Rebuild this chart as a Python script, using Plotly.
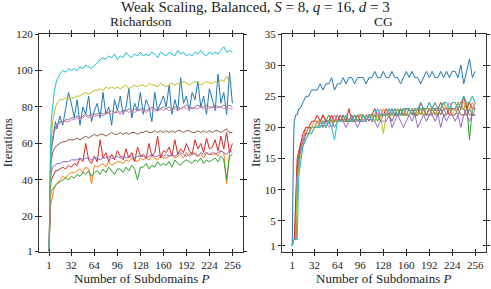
import plotly.graph_objects as go

# ---------------- data ----------------
P = [1, 2, 3, 4, 6, 8, 10, 12, 16, 20, 24, 28, 32] + list(range(36, 257, 4))

series_names = ["blue", "orange", "green", "red", "purple", "brown", "pink", "gray", "olive", "cyan"]
colors = ["#1f77b4", "#ff7f0e", "#2ca02c", "#d62728", "#9467bd",
          "#8c564b", "#e377c2", "#7f7f7f", "#bcbd22", "#17becf"]

# Richardson iterations
rich_blue = [1, 35, 50, 58, 63, 66, 72, 68, 75, 70, 78, 88, 82,
             74, 84, 70, 80, 76, 86, 72, 78, 82, 74, 88, 76, 80, 70, 84, 78,
             86, 76, 80, 90, 74, 82, 78, 88, 76, 84, 80, 72, 88, 78, 82, 86,
             80, 92, 76, 84, 78, 96, 82, 86, 78, 88, 84, 94, 80, 86, 76, 90,
             84, 78, 98, 82, 88, 76, 99, 82]
rich_orange = [1, 18, 25, 28, 32, 35, 37, 38, 40, 42, 41, 43, 44,
               44, 45, 46, 44, 47, 46, 38, 48, 47, 48, 49, 47, 50, 48, 49, 50,
               50, 49, 51, 50, 52, 51, 50, 52, 51, 52, 51, 53, 52, 51, 53, 52,
               52, 53, 54, 52, 53, 54, 52, 55, 53, 54, 55, 53, 54, 52, 55, 54,
               54, 55, 53, 56, 55, 38, 55, 57]
rich_green = [1, 22, 30, 34, 35, 36, 37, 38, 39, 40, 41, 40, 42,
              41, 43, 42, 44, 43, 45, 42, 44, 45, 43, 46, 44, 47, 45, 43, 46,
              46, 44, 47, 45, 48, 46, 40, 47, 47, 49, 46, 48, 47, 50, 48, 49,
              48, 50, 47, 51, 49, 48, 50, 51, 50, 49, 51, 50, 52, 49, 51, 50,
              51, 52, 50, 53, 51, 40, 53, 54]
rich_red = [1, 26, 36, 40, 42, 44, 45, 45, 46, 47, 46, 48, 47,
            49, 48, 52, 50, 60, 51, 49, 53, 50, 62, 52, 55, 50, 54, 51, 56,
            53, 51, 57, 52, 55, 50, 58, 53, 54, 52, 60, 53, 55, 64, 52, 56,
            55, 58, 53, 62, 54, 57, 55, 60, 56, 54, 62, 57, 60, 55, 63, 57,
            58, 62, 56, 64, 57, 66, 55, 60]
rich_purple = [1, 28, 38, 44, 47, 48, 48, 49, 49, 50, 50, 50, 51,
               51, 51, 52, 51, 52, 52, 51, 52, 52, 51, 52, 52, 53, 52, 52, 53,
               52, 53, 52, 53, 53, 52, 53, 53, 53, 52, 53, 54, 53, 53, 54, 53,
               54, 53, 54, 53, 54, 55, 54, 53, 54, 55, 54, 53, 55, 54, 55, 54,
               55, 54, 55, 56, 55, 54, 56, 55]
rich_brown = [1, 30, 42, 50, 55, 57, 58, 59, 60, 61, 61, 62, 62,
              62, 63, 62, 63, 64, 63, 64, 65, 64, 65, 65, 64, 65, 66, 65, 65,
              66, 65, 66, 65, 66, 66, 65, 66, 66, 67, 66, 66, 67, 66, 67, 66,
              67, 66, 67, 66, 67, 67, 66, 67, 67, 66, 66, 67, 66, 67, 66, 67,
              66, 67, 67, 66, 67, 68, 66, 66]
rich_pink = [1, 33, 46, 55, 62, 66, 68, 70, 71, 72, 72, 72, 73,
             73, 74, 73, 74, 75, 74, 75, 75, 75, 76, 75, 76, 77, 76, 77, 77,
             76, 77, 78, 77, 78, 77, 78, 78, 78, 77, 78, 79, 78, 78, 79, 78,
             79, 78, 79, 79, 78, 79, 80, 79, 79, 80, 79, 79, 80, 79, 80, 79,
             80, 79, 80, 80, 79, 80, 79, 79]
rich_gray = [1, 35, 48, 56, 63, 67, 69, 70, 72, 72, 73, 73, 74,
             74, 75, 74, 75, 76, 75, 76, 76, 76, 77, 76, 77, 77, 78, 77, 78,
             77, 78, 78, 79, 78, 79, 78, 79, 79, 78, 79, 80, 79, 78, 79, 80,
             79, 80, 79, 80, 80, 79, 80, 81, 80, 79, 80, 81, 80, 80, 81, 80,
             80, 81, 80, 80, 81, 80, 81, 80]
rich_olive = [1, 30, 50, 62, 72, 77, 80, 82, 84, 84, 85, 84, 85,
              85, 86, 86, 87, 88, 87, 88, 89, 89, 90, 89, 91, 90, 91, 90, 91,
              90, 91, 92, 90, 91, 92, 91, 92, 92, 91, 93, 92, 92, 91, 93, 92,
              91, 92, 93, 92, 93, 92, 94, 93, 92, 93, 94, 93, 92, 93, 94, 93,
              93, 94, 93, 95, 94, 97, 93, 93]
rich_cyan = [1, 40, 60, 72, 82, 88, 92, 95, 98, 100, 99, 101, 100,
             101, 100, 102, 101, 103, 102, 101, 103, 104, 106, 107, 106, 108, 107, 109, 106,
             108, 107, 110, 108, 107, 109, 108, 110, 108, 109, 108, 110, 109, 107, 110, 109,
             108, 110, 109, 108, 111, 109, 110, 108, 109, 108, 110, 109, 111, 109, 108, 110,
             109, 110, 109, 111, 113, 110, 111, 110]

# CG iterations
cg_blue = [1, 12, 18, 21, 22, 22, 23, 23, 24, 25, 25, 26, 26,
           26, 27, 26, 27, 27, 28, 26, 27, 27, 28, 27, 28, 28, 27, 28, 28,
           28, 27, 28, 28, 29, 28, 28, 29, 28, 28, 29, 28, 28, 27, 28, 29,
           28, 29, 28, 28, 27, 28, 29, 28, 29, 28, 28, 29, 28, 29, 28, 29,
           29, 28, 30, 27, 29, 31, 28, 29]
cg_orange = [1, 2, 2, 2, 8, 14, 16, 17, 18, 20, 20, 20, 21,
             21, 21, 22, 21, 21, 21, 22, 21, 21, 22, 21, 21, 22, 21, 22, 21,
             22, 21, 22, 22, 21, 22, 22, 23, 22, 22, 23, 22, 22, 23, 22, 23,
             23, 22, 23, 23, 22, 23, 23, 24, 23, 24, 23, 23, 24, 23, 23, 24,
             24, 23, 24, 24, 23, 24, 25, 24]
cg_green = [1, 2, 2, 2, 2, 13, 15, 17, 18, 19, 20, 20, 20,
            21, 20, 21, 21, 22, 21, 21, 21, 21, 22, 21, 21, 21, 22, 21, 22,
            22, 21, 22, 22, 22, 21, 22, 22, 22, 23, 22, 22, 23, 22, 22, 23,
            23, 22, 23, 22, 23, 23, 22, 23, 23, 23, 22, 23, 24, 23, 23, 23,
            23, 24, 23, 23, 24, 18, 23, 24]
cg_red = [1, 2, 2, 2, 10, 15, 16, 17, 19, 20, 20, 21, 21,
          22, 21, 22, 21, 21, 22, 21, 21, 22, 21, 21, 23, 21, 21, 22, 21,
          21, 22, 21, 22, 23, 22, 22, 22, 23, 22, 22, 23, 22, 22, 23, 22,
          22, 23, 22, 22, 24, 23, 22, 23, 23, 22, 23, 24, 23, 23, 22, 23,
          23, 24, 23, 25, 23, 24, 23, 23]
cg_purple = [1, 2, 2, 2, 2, 12, 15, 16, 18, 19, 19, 20, 20,
             20, 21, 20, 21, 21, 20, 21, 21, 21, 21, 20, 21, 21, 21, 20, 21,
             21, 21, 22, 21, 21, 20, 21, 21, 21, 22, 20, 21, 22, 21, 20, 21,
             22, 21, 22, 20, 21, 22, 21, 22, 22, 21, 22, 20, 22, 21, 22, 22,
             21, 22, 20, 22, 22, 21, 22, 22]
cg_brown = [1, 2, 2, 2, 2, 13, 15, 16, 18, 19, 19, 20, 20,
            20, 21, 21, 20, 21, 21, 21, 22, 21, 21, 22, 21, 21, 22, 21, 21,
            22, 21, 22, 21, 22, 22, 21, 22, 22, 22, 21, 22, 22, 23, 22, 22,
            22, 23, 22, 22, 23, 22, 22, 22, 23, 22, 22, 23, 22, 22, 23, 22,
            22, 23, 22, 22, 23, 22, 22, 22]
cg_pink = [1, 2, 2, 2, 2, 12, 14, 16, 18, 19, 20, 19, 20,
           21, 20, 21, 21, 20, 21, 22, 21, 21, 21, 22, 21, 22, 21, 21, 22,
           21, 22, 22, 21, 22, 22, 23, 22, 22, 22, 23, 22, 22, 22, 23, 22,
           23, 22, 22, 23, 23, 22, 23, 23, 22, 23, 23, 22, 23, 23, 24, 23,
           23, 23, 24, 23, 22, 23, 24, 23]
cg_gray = [1, 2, 2, 2, 2, 11, 14, 16, 17, 19, 19, 20, 20,
           20, 21, 20, 21, 21, 21, 20, 21, 21, 22, 21, 21, 22, 21, 22, 22,
           22, 21, 22, 22, 21, 22, 22, 22, 22, 22, 23, 22, 22, 23, 22, 22,
           23, 22, 22, 23, 22, 23, 22, 23, 22, 23, 23, 22, 23, 22, 23, 23,
           23, 22, 23, 23, 22, 23, 22, 23]
cg_olive = [1, 2, 2, 2, 2, 11, 13, 15, 17, 18, 19, 20, 20,
            20, 21, 21, 20, 21, 21, 21, 21, 21, 21, 22, 21, 21, 22, 21, 22,
            22, 21, 22, 22, 21, 22, 22, 19, 22, 22, 22, 23, 22, 22, 23, 22,
            22, 23, 23, 22, 23, 22, 23, 23, 23, 22, 23, 23, 24, 23, 23, 22,
            23, 24, 23, 23, 24, 23, 23, 24]
cg_cyan = [1, 2, 2, 2, 2, 2, 12, 14, 17, 18, 19, 19, 20,
           20, 20, 21, 20, 21, 20, 18, 21, 21, 21, 22, 21, 21, 22, 21, 21,
           22, 21, 22, 21, 22, 23, 22, 22, 22, 23, 22, 23, 22, 22, 23, 23,
           23, 22, 23, 23, 24, 23, 23, 24, 23, 24, 23, 23, 24, 24, 23, 24,
           24, 23, 24, 25, 24, 24, 25, 24]

rich_series = [rich_blue, rich_orange, rich_green, rich_red, rich_purple,
               rich_brown, rich_pink, rich_gray, rich_olive, rich_cyan]
cg_series = [cg_blue, cg_orange, cg_green, cg_red, cg_purple,
             cg_brown, cg_pink, cg_gray, cg_olive, cg_cyan]

x_ticks = [1, 32, 64, 96, 128, 160, 192, 224, 256]
rich_yticks = [1, 20, 40, 60, 80, 100, 120]
cg_yticks = [1, 5, 10, 15, 20, 25, 30, 35]

title_text = "Weak Scaling, Balanced, <i>S</i> = 8, <i>q</i> = 16, <i>d</i> = 3"
sub_titles = ["Richardson", "CG"]
x_title = "Number of Subdomains <i>P</i>"
y_title = "Iterations"

# ---------------- figure ----------------
FONT = "Liberation Serif, Times New Roman, serif"
TXT = "#222222"
fig = go.Figure()

for vals, col, name in zip(rich_series, colors, series_names):
    fig.add_trace(go.Scatter(x=P, y=vals, mode="lines", name=name,
                             line=dict(color=col, width=1), xaxis="x", yaxis="y",
                             showlegend=False, hoverinfo="skip"))
for vals, col, name in zip(cg_series, colors, series_names):
    fig.add_trace(go.Scatter(x=P, y=vals, mode="lines", name=name,
                             line=dict(color=col, width=1), xaxis="x2", yaxis="y2",
                             showlegend=False, hoverinfo="skip"))
# dummy traces so the overlay (inside-tick) axes get drawn
fig.add_trace(go.Scatter(x=[None], y=[None], xaxis="x3", yaxis="y3", showlegend=False, hoverinfo="skip"))
fig.add_trace(go.Scatter(x=[None], y=[None], xaxis="x4", yaxis="y4", showlegend=False, hoverinfo="skip"))

dl = [0, 0.4568]
dr = [0.5439, 1.0]
xr = [-13, 271]
rich_r = [0.5, 120]
cg_r = [0, 35]

def ax(dom, rng, tv, anchor, outside=True, overlay=None):
    d = dict(domain=dom, range=rng, tickvals=tv, ticktext=[str(t) for t in tv],
             anchor=anchor, showgrid=False, zeroline=False,
             ticks="outside" if outside else "inside", ticklen=3, tickwidth=1,
             tickcolor="#222222", mirror="ticks" if not outside else "allticks",
             tickfont=dict(family=FONT, size=11, color=TXT))
    if outside:
        d.update(showline=True, linecolor="#333333", linewidth=1.3)
    else:
        d.update(showline=False, showticklabels=False, overlaying=overlay)
    return d

fig.update_layout(
    width=491, height=289,
    margin=dict(l=39, r=1, t=34, b=37),
    paper_bgcolor="white", plot_bgcolor="white",
    hovermode=False,
    xaxis=ax(dl, xr, x_ticks, "y"),
    yaxis=ax([0, 1], rich_r, rich_yticks, "x"),
    xaxis2=ax(dr, xr, x_ticks, "y2"),
    yaxis2=ax([0, 1], cg_r, cg_yticks, "x2"),
    xaxis3=ax(dl, xr, x_ticks, "y3", outside=False, overlay="x"),
    yaxis3=ax([0, 1], rich_r, rich_yticks, "x3", outside=False, overlay="y"),
    xaxis4=ax(dr, xr, x_ticks, "y4", outside=False, overlay="x2"),
    yaxis4=ax([0, 1], cg_r, cg_yticks, "x4", outside=False, overlay="y2"),
)

ann = []
ann.append(dict(text=title_text, x=(257 - 39) / 451, y=(252 - 7) / 218, xref="paper", yref="paper",
                showarrow=False, xanchor="center", yanchor="middle",
                font=dict(family=FONT, size=15, color=TXT)))
for t, cx in zip(sub_titles, [(142 - 39) / 451, (387 - 39) / 451]):
    ann.append(dict(text=t, x=cx, y=(252 - 21) / 218, xref="paper", yref="paper",
                    showarrow=False, xanchor="center", yanchor="middle",
                    font=dict(family=FONT, size=13.5, color=TXT)))
    ann.append(dict(text=x_title, x=cx, y=(252 - 278) / 218, xref="paper", yref="paper",
                    showarrow=False, xanchor="center", yanchor="middle",
                    font=dict(family=FONT, size=13, color=TXT)))
for px in [7, 257]:
    ann.append(dict(text=y_title, x=(px - 39) / 451, y=(252 - 143) / 218, xref="paper", yref="paper",
                    showarrow=False, xanchor="center", yanchor="middle", textangle=-90,
                    font=dict(family=FONT, size=13, color=TXT)))
fig.update_layout(annotations=ann)

fig.write_html("out.html", config={"displayModeBar": False},
               post_script="document.body.style.margin='0px';")
